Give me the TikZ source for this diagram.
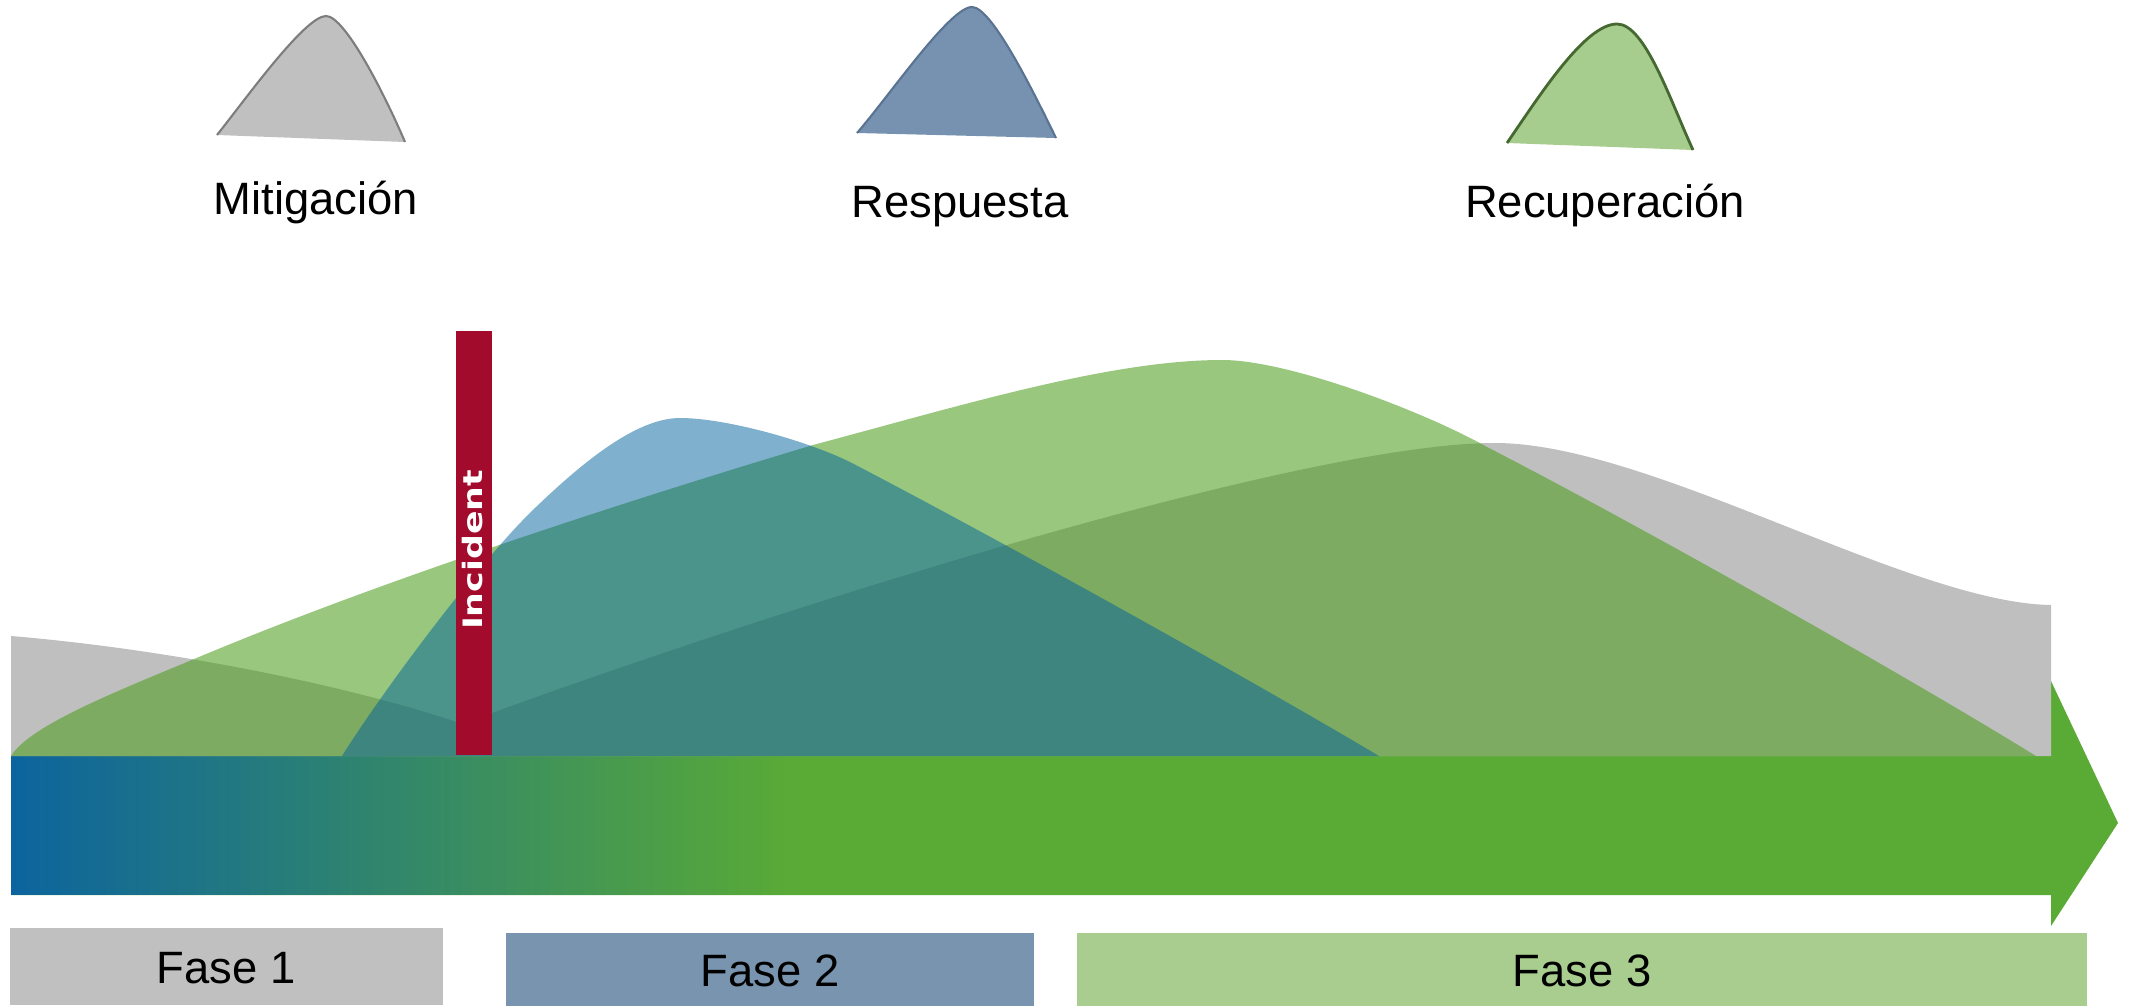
\documentclass[tikz,border=0pt]{standalone}
\usepackage{fontspec}
\setmainfont{Liberation Sans}
\newfontfamily\incfont{DejaVu Sans}
\definecolor{cgray}{RGB}{191,191,191}
\definecolor{cgreen}{RGB}{74,157,27}
\definecolor{cblue}{RGB}{0,97,155}
\definecolor{cbar}{RGB}{162,11,44}
\definecolor{carrow}{RGB}{90,171,53}
\definecolor{carrowblue}{RGB}{12,100,158}
\definecolor{carrowmid}{RGB}{38,135,98}
\definecolor{ficonA}{RGB}{192,192,192}
\definecolor{ficonB}{RGB}{118,146,176}
\definecolor{ficonC}{RGB}{167,205,142}
\definecolor{siconA}{RGB}{125,125,125}
\definecolor{siconB}{RGB}{90,115,145}
\definecolor{siconC}{RGB}{70,105,50}
\definecolor{faseA}{RGB}{192,192,192}
\definecolor{faseB}{RGB}{120,148,175}
\definecolor{faseC}{RGB}{169,205,143}
\tikzset{
  toplabel/.style={anchor=base, inner sep=0pt, font=\fontsize{12.9}{15}\selectfont},
  faselabel/.style={anchor=base, inner sep=0pt, font=\fontsize{12.9}{15}\selectfont},
  fasebox/.style={inner sep=0pt, anchor=north west}
}
\begin{document}
\begin{tikzpicture}[x=0.01cm,y=-0.01cm]
\useasboundingbox (0,0) rectangle (2136,1006);

% timeline arrow
\fill[carrow] (11,756) -- (2051,756) -- (2051,681) -- (2118,823) -- (2051,926) -- (2051,895) -- (11,895) -- cycle;
\begin{scope}
  \clip (11,756.6) rectangle (800,894.2);
  \shade[left color=carrowblue, middle color=carrowmid, right color=carrow] (11,740) rectangle (800,910);
\end{scope}

% gray (mitigation) curve
\fill[cgray] (11,756) -- (11,636)
  .. controls (200,652) and (380,695) .. (462,724)
  .. controls (762,613) and (1300,443) .. (1495,443)
  .. controls (1650,443) and (1910,603) .. (2051,605)
  -- (2051,756) -- cycle;

% green (recovery) curve
\fill[cgreen, fill opacity=0.57] (11,756)
  .. controls (30,725) and (120,690) .. (199,657)
  .. controls (399,573) and (663,490) .. (813,445)
  .. controls (963,405) and (1110,360) .. (1222,360)
  .. controls (1290,360) and (1427,413) .. (1487,447)
  .. controls (1610,510) and (1880,660) .. (2036,756)
  -- cycle;

% blue (response) curve
\fill[cblue, fill opacity=0.5] (342,756)
  .. controls (380,695) and (480,560) .. (536,507)
  .. controls (580,465) and (635,418) .. (680,418)
  .. controls (725,418) and (805,440) .. (850,462)
  .. controls (1000,540) and (1260,685) .. (1379,756)
  -- cycle;

% incident bar
\node (incbar) [fill=cbar, inner sep=0pt, minimum width=0.36cm, minimum height=4.24cm, anchor=south west] at (455,756) {};
\node (inctext) [rotate=90, text=white, inner sep=0pt, font=\incfont\bfseries\fontsize{7.6}{9}\selectfont] at (473,550) {\scalebox{1.3}[1]{Incident}};

% top icons
\fill[ficonA] (217,135) .. controls (245,100) and (305,16) .. (326,16) .. controls (345,16) and (385,95) .. (405,142) -- cycle;
\draw[siconA, line width=0.6pt] (217,135) .. controls (245,100) and (305,16) .. (326,16) .. controls (345,16) and (385,95) .. (405,142);

\fill[ficonB] (857,133) .. controls (890,95) and (950,7) .. (972,7) .. controls (992,7) and (1035,95) .. (1056,138) -- cycle;
\draw[siconB, line width=0.6pt] (857,133) .. controls (890,95) and (950,7) .. (972,7) .. controls (992,7) and (1035,95) .. (1056,138);

\fill[ficonC] (1507,143) .. controls (1540,95) and (1585,24) .. (1617,24) .. controls (1645,24) and (1670,100) .. (1693,150) -- cycle;
\draw[siconC, line width=0.8pt] (1507,143) .. controls (1540,95) and (1585,24) .. (1617,24) .. controls (1645,24) and (1670,100) .. (1693,150);

% top labels
\node (mit) [toplabel] at (316,214) {Mitigación};
\node (resp) [toplabel] at (960,217) {Respuesta};
\node (recu) [toplabel] at (1605,217) {Recuperación};

% phase boxes
\node (faseAbox) [fasebox, fill=faseA, minimum width=4.33cm, minimum height=0.77cm] at (9,927) {};
\node (faseBbox) [fasebox, fill=faseB, minimum width=5.28cm, minimum height=0.74cm] at (505,932) {};
\node (faseCbox) [fasebox, fill=faseC, minimum width=10.10cm, minimum height=0.74cm] at (1076,932) {};
\node (faseAtext) [faselabel] at (226,983) {Fase 1};
\node (faseBtext) [faselabel] at (770,986) {Fase 2};
\node (faseCtext) [faselabel] at (1582,986) {Fase 3};
\end{tikzpicture}
\end{document}
